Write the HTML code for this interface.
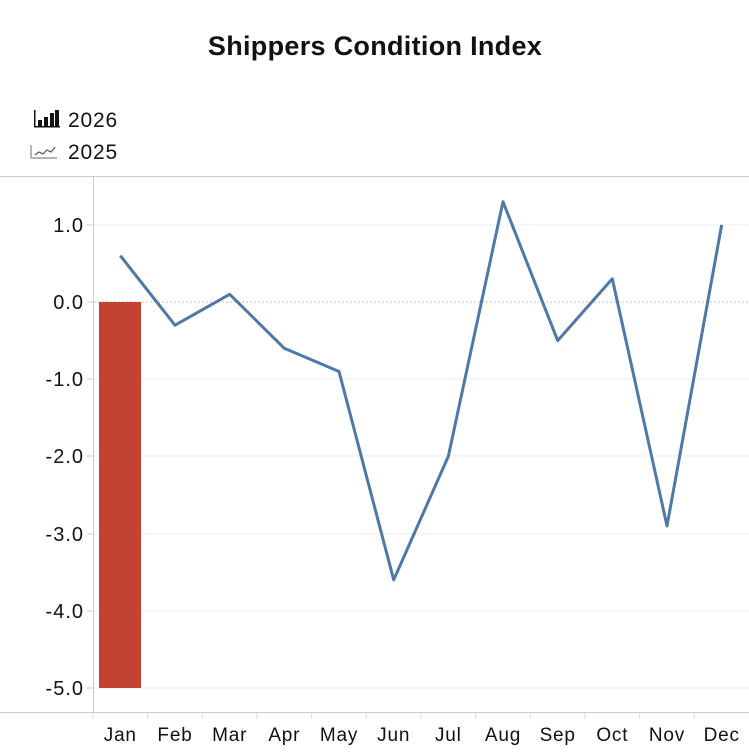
<!DOCTYPE html>
<html><head><meta charset="utf-8"><style>
body{margin:0;background:#fff;}
svg text{font-family:"Liberation Sans",sans-serif;fill:#111;}
</style></head><body>
<svg width="749" height="749" viewBox="0 0 749 749" xmlns="http://www.w3.org/2000/svg">
<text x="375" y="55" font-size="27" text-anchor="middle" font-weight="bold" letter-spacing="0.3">Shippers Condition Index</text>
<g fill="#111">
<rect x="34" y="126" width="26" height="1.5"/>
<rect x="34" y="110" width="1.5" height="17"/>
<rect x="38" y="120" width="4" height="6"/>
<rect x="44" y="117" width="4" height="9"/>
<rect x="50" y="113" width="4" height="13"/>
<rect x="55" y="110" width="4" height="16"/>
</g>
<text x="68" y="127" font-size="21" letter-spacing="0.8">2026</text>
<g stroke="#888" fill="none" stroke-width="1.2">
<path d="M31 158 H57 M31 158 V145"/>
<path d="M35 155 L39 152 L43 154 L47 150 L51 152 L55 147" stroke="#555"/>
</g>
<text x="68" y="159" font-size="21" letter-spacing="0.8">2025</text>
<line x1="0" y1="176.5" x2="749" y2="176.5" stroke="#ccc"/>
<line x1="0" y1="712.5" x2="749" y2="712.5" stroke="#ccc"/>
<line x1="93.5" y1="176" x2="93.5" y2="713" stroke="#ccc"/>
<g stroke="#eee">
<line x1="94" y1="225" x2="749" y2="225"/>
<line x1="94" y1="379" x2="749" y2="379"/>
<line x1="94" y1="456" x2="749" y2="456"/>
<line x1="94" y1="534" x2="749" y2="534"/>
<line x1="94" y1="611" x2="749" y2="611"/>
<line x1="94" y1="688" x2="749" y2="688"/>
</g>
<line x1="94" y1="302" x2="749" y2="302" stroke="#aaa" stroke-dasharray="2,2" stroke-width="0.8"/>
<g stroke="#ccc">
<line x1="87" y1="225" x2="93" y2="225"/><line x1="87" y1="302" x2="93" y2="302"/>
<line x1="87" y1="379" x2="93" y2="379"/><line x1="87" y1="456" x2="93" y2="456"/>
<line x1="87" y1="534" x2="93" y2="534"/><line x1="87" y1="611" x2="93" y2="611"/>
<line x1="87" y1="688" x2="93" y2="688"/>
</g>
<g stroke="#ddd">
<line x1="93" y1="713" x2="93" y2="719"/><line x1="147.7" y1="713" x2="147.7" y2="719"/>
<line x1="202.3" y1="713" x2="202.3" y2="719"/><line x1="257" y1="713" x2="257" y2="719"/>
<line x1="311.7" y1="713" x2="311.7" y2="719"/><line x1="366.3" y1="713" x2="366.3" y2="719"/>
<line x1="421" y1="713" x2="421" y2="719"/><line x1="475.7" y1="713" x2="475.7" y2="719"/>
<line x1="530.3" y1="713" x2="530.3" y2="719"/><line x1="585" y1="713" x2="585" y2="719"/>
<line x1="639.7" y1="713" x2="639.7" y2="719"/><line x1="694.3" y1="713" x2="694.3" y2="719"/>
</g>
<g font-size="20" text-anchor="end" letter-spacing="1">
<text x="84" y="232">1.0</text><text x="84" y="309">0.0</text>
<text x="84" y="386">-1.0</text><text x="84" y="463">-2.0</text>
<text x="84" y="541">-3.0</text><text x="84" y="618">-4.0</text>
<text x="84" y="695">-5.0</text>
</g>
<g font-size="19" text-anchor="middle" letter-spacing="0.8">
<text x="120.3" y="741">Jan</text><text x="175" y="741">Feb</text><text x="229.7" y="741">Mar</text>
<text x="284.3" y="741">Apr</text><text x="339" y="741">May</text><text x="393.7" y="741">Jun</text>
<text x="448.3" y="741">Jul</text><text x="503" y="741">Aug</text><text x="557.7" y="741">Sep</text>
<text x="612.3" y="741">Oct</text><text x="667" y="741">Nov</text><text x="721.7" y="741">Dec</text>
</g>
<rect x="99" y="302" width="42" height="386" fill="#c44230"/>
<polyline fill="none" stroke="#4e79a7" stroke-width="3" stroke-linejoin="round"
points="120.3,255.7 175,325.2 229.7,294.3 284.3,348.3 339,371.5 393.7,579.9 448.3,456.4 503,201.7 557.7,340.6 612.3,278.8 667,525.9 721.7,224.8"/>
</svg>
</body></html>
